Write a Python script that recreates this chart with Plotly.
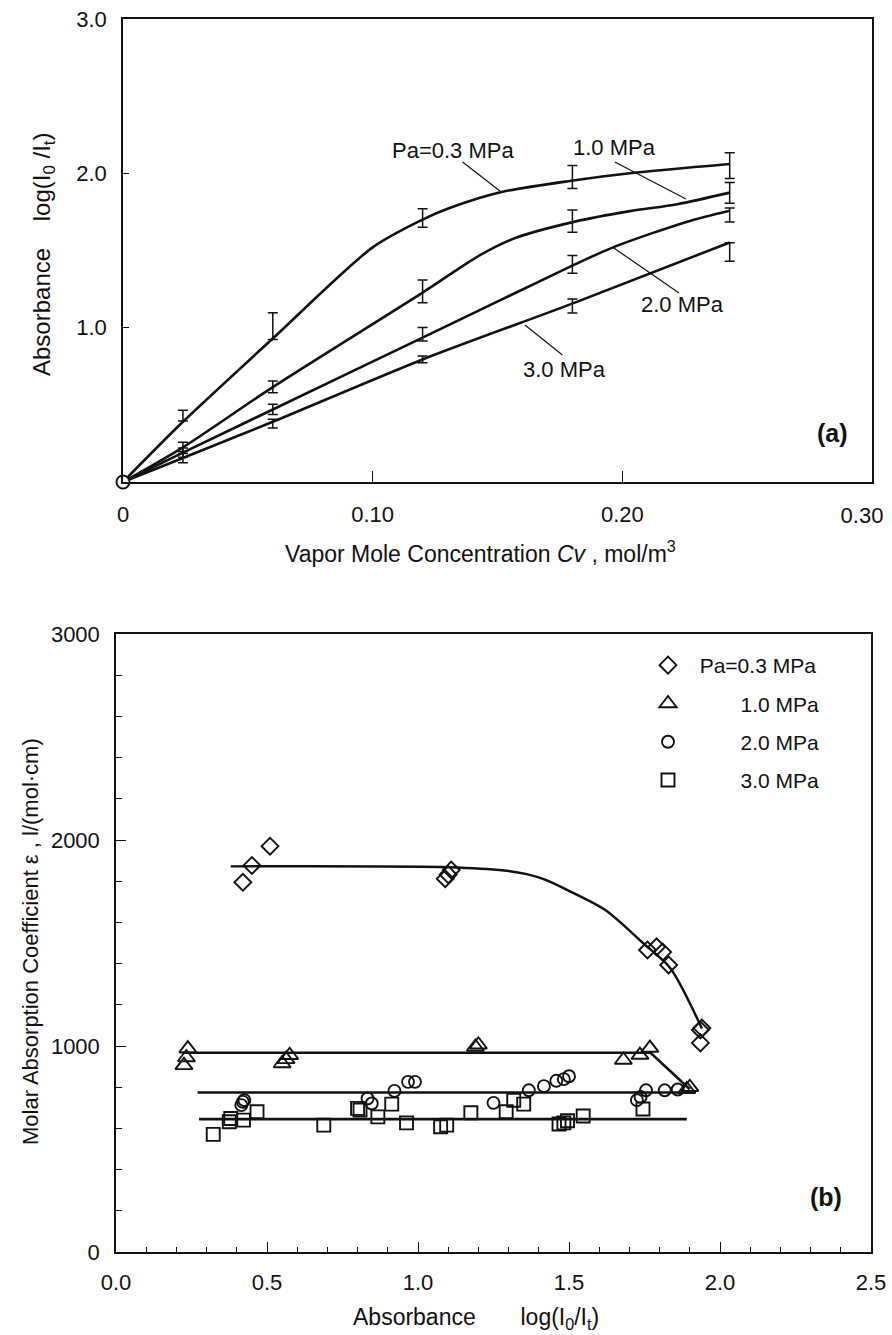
import plotly.graph_objects as go

# ---------------- Panel (a) data ----------------
cv = [0.024, 0.060, 0.120, 0.180, 0.243]
abs_03 = [0.43, 1.01, 1.71, 1.976, 2.05]
err_03 = [0.035, 0.087, 0.06, 0.074, 0.083]
abs_10 = [0.228, 0.616, 1.235, 1.69, 1.873]
err_10 = [0.03, 0.038, 0.074, 0.072, 0.067]
abs_20 = [0.19, 0.47, 0.957, 1.41, 1.73]
err_20 = [0.03, 0.033, 0.044, 0.058, 0.045]
abs_30 = [0.155, 0.378, 0.795, 1.14, 1.49]
err_30 = [0.03, 0.028, 0.022, 0.045, 0.06]
origin_cv = [0.0]
origin_abs = [0.0]

fit03_cv = [0, 0.024, 0.060, 0.100, 0.120, 0.130, 0.152, 0.181, 0.203, 0.243]
fit03 = [0, 0.39, 0.93, 1.52, 1.70, 1.77, 1.88, 1.955, 2.0, 2.06]
fit10_cv = [0, 0.024, 0.060, 0.120, 0.143, 0.157, 0.181, 0.203, 0.222, 0.243]
fit10 = [0, 0.225, 0.615, 1.227, 1.47, 1.58, 1.687, 1.755, 1.80, 1.875]
fit20_cv = [0, 0.024, 0.060, 0.120, 0.181, 0.197, 0.226, 0.243]
fit20 = [0, 0.19, 0.47, 0.935, 1.41, 1.525, 1.687, 1.758]
fit30_cv = [0, 0.024, 0.060, 0.120, 0.181, 0.243]
fit30 = [0, 0.156, 0.39, 0.794, 1.162, 1.552]

# ---------------- Panel (b) data ----------------
b03_x = [0.42, 0.45, 0.51, 1.09, 1.10, 1.11, 1.76, 1.79, 1.81, 1.83, 1.935, 1.94, 1.935]
b03_y = [1795, 1876, 1970, 1812, 1832, 1854, 1466, 1481, 1456, 1393, 1078, 1087, 1015]
b10_x = [0.225, 0.233, 0.238, 0.55, 0.563, 0.575, 1.19, 1.20, 1.68, 1.735, 1.768, 1.89, 1.90]
b10_y = [906, 944, 987, 915, 935, 955, 995, 1006, 932, 956, 990, 790, 800]
b20_x = [0.415, 0.42, 0.425, 0.833, 0.847, 0.922, 0.967, 0.99, 1.25, 1.367, 1.417,
         1.458, 1.483, 1.50, 1.725, 1.737, 1.755, 1.817, 1.86]
b20_y = [713, 729, 737, 745, 721, 782, 826, 826, 724, 785, 805, 831, 839, 853, 737,
         753, 785, 785, 789]
b30_x = [0.322, 0.375, 0.38, 0.422, 0.467, 0.688, 0.80, 0.808, 0.867, 0.913, 0.962,
         1.075, 1.095, 1.175, 1.292, 1.317, 1.35, 1.467, 1.483, 1.495, 1.547, 1.745]
b30_y = [571, 632, 648, 640, 681, 616, 697, 689, 656, 718, 627, 608, 616, 676, 681,
         737, 718, 621, 627, 637, 660, 694]

line03_x = [0.38, 1.10, 1.285, 1.36, 1.425, 1.49, 1.62, 1.745, 1.835, 1.94]
line03_y = [1872, 1868, 1852, 1834, 1805, 1760, 1660, 1500, 1379, 1085]
line10_x = [0.22, 1.77, 1.90]
line10_y = [967, 967, 790]
line20_x = [0.27, 1.89]
line20_y = [774, 774]
line30_x = [0.275, 1.89]
line30_y = [645, 645]

NB = "\u00a0"
legend_names = [NB * 2 + "Pa=0.3 MPa", NB * 9 + "1.0 MPa", NB * 9 + "2.0 MPa", NB * 9 + "3.0 MPa"]
cv_tickvals = [0, 0.10, 0.20]
cv_ticktext = ["0", "0.10", "0.20"]
cv_last_tick = [0.30]
cv_last_text = ["0.30"]

FONT = "Liberation Sans, Arial, Helvetica, sans-serif"
BLACK = "#111111"

fig = go.Figure()

# Panel (a) fitted curves
for fx, fy in [(fit03_cv, fit03), (fit10_cv, fit10), (fit20_cv, fit20), (fit30_cv, fit30)]:
    fig.add_trace(go.Scatter(x=fx, y=fy, mode="lines", xaxis="x", yaxis="y",
                             line=dict(color=BLACK, width=2.6, shape="spline", smoothing=0.8),
                             showlegend=False, hoverinfo="skip"))
# Panel (a) error bars
for yy, ee in [(abs_03, err_03), (abs_10, err_10), (abs_20, err_20), (abs_30, err_30)]:
    fig.add_trace(go.Scatter(x=cv, y=yy, mode="markers", xaxis="x", yaxis="y",
                             marker=dict(size=1, color="rgba(0,0,0,0)"),
                             error_y=dict(type="data", array=ee, visible=True,
                                          color=BLACK, thickness=1.5, width=5),
                             showlegend=False, hoverinfo="skip"))
fig.add_trace(go.Scatter(x=origin_cv, y=origin_abs, mode="markers", xaxis="x", yaxis="y",
                         marker=dict(symbol="circle", size=13, color="white",
                                     line=dict(color=BLACK, width=2)),
                         cliponaxis=False, showlegend=False, hoverinfo="skip"))

# Panel (b) lines
fig.add_trace(go.Scatter(x=line03_x, y=line03_y, mode="lines", xaxis="x2", yaxis="y2",
                         line=dict(color=BLACK, width=2.4, shape="spline", smoothing=0.8),
                         showlegend=False, hoverinfo="skip"))
for lx, ly in [(line10_x, line10_y), (line20_x, line20_y), (line30_x, line30_y)]:
    fig.add_trace(go.Scatter(x=lx, y=ly, mode="lines", xaxis="x2", yaxis="y2",
                             line=dict(color=BLACK, width=2.6),
                             showlegend=False, hoverinfo="skip"))

# Panel (b) markers
marker_specs = [
    (b03_x, b03_y, "diamond-open", 13),
    (b10_x, b10_y, "triangle-up-open", 15),
    (b20_x, b20_y, "circle-open", 12),
    (b30_x, b30_y, "square-open", 13),
]
for i, (mx, my, sym, sz) in enumerate(marker_specs):
    fig.add_trace(go.Scatter(x=mx, y=my, mode="markers", xaxis="x2", yaxis="y2",
                             name=legend_names[i], legendgroup="g%d" % i,
                             marker=dict(symbol=sym, size=sz, color=BLACK,
                                         line=dict(color=BLACK, width=1.9)),
                             hoverinfo="skip"))

W, H = 892, 1335
TICKFONT = dict(family=FONT, size=22, color=BLACK)
ax_common = dict(showline=True, linecolor=BLACK, linewidth=1.5, mirror=True,
                 showgrid=False, zeroline=False, ticks="inside", tickcolor=BLACK,
                 automargin=False, ticklabeloverflow="allow", tickfont=TICKFONT)

fig.update_layout(
    width=W, height=H, margin=dict(l=0, r=0, t=0, b=0, autoexpand=False),
    paper_bgcolor="white", plot_bgcolor="white",
    font=dict(family=FONT, size=21, color=BLACK),
    xaxis=dict(domain=[123 / W, 872 / W], anchor="y", range=[0, 0.30],
               tickvals=cv_tickvals, ticktext=cv_ticktext,
               ticklen=11, tickwidth=1.3, ticklabelstandoff=12, **ax_common),
    # helper axis carrying only the last tick label, nudged inside the page
    xaxis3=dict(domain=[123 / W, 872 / W], anchor="y", overlaying="x", range=[0, 0.30],
                tickvals=cv_last_tick, ticktext=cv_last_text, ticklabelshift=-10,
                ticks="inside", ticklen=11, tickwidth=1.3, tickcolor="rgba(0,0,0,0)",
                showline=False, showgrid=False, zeroline=False,
                automargin=False, ticklabeloverflow="allow", ticklabelstandoff=18,
                tickfont=TICKFONT),
    yaxis=dict(domain=[1 - 482 / H, 1 - 19 / H], anchor="x", range=[0, 3.0],
               tickvals=[1.0, 2.0, 3.0], ticktext=["1.0", "2.0", "3.0"],
               ticklen=6, tickwidth=1.3, ticklabelstandoff=10, **ax_common),
    xaxis2=dict(domain=[116 / W, 871 / W], anchor="y2", range=[0, 2.5],
                tickvals=[0, 0.5, 1.0, 1.5, 2.0, 2.5],
                ticktext=["0.0", "0.5", "1.0", "1.5", "2.0", "2.5"],
                ticklen=10, tickwidth=1.3, ticklabelstandoff=10,
                minor=dict(dtick=0.1, ticklen=5, tickwidth=1.2, tickcolor=BLACK, ticks="inside"),
                **ax_common),
    yaxis2=dict(domain=[1 - 1252 / H, 1 - 634 / H], anchor="x2", range=[0, 3000],
                tickvals=[0, 1000, 2000, 3000], ticktext=["0", "1000", "2000", "3000"],
                ticklen=10, tickwidth=1.3, ticklabelstandoff=10,
                minor=dict(dtick=200, ticklen=6, tickwidth=1.2, tickcolor=BLACK, ticks="inside"),
                **ax_common),
    legend=dict(x=648 / W, y=1 - 645 / H, xanchor="left", yanchor="top",
                bgcolor="rgba(0,0,0,0)", borderwidth=0, tracegroupgap=8,
                font=dict(family=FONT, size=21, color=BLACK), traceorder="grouped"),
)

# invisible anchor trace so the helper axis is drawn
fig.add_trace(go.Scatter(x=cv_last_tick, y=origin_abs, mode="markers", xaxis="x3", yaxis="y",
                         marker=dict(size=1, color="rgba(0,0,0,0)"),
                         showlegend=False, hoverinfo="skip"))

# Leader lines (panel a)
leaders = [
    (0.136, 2.074, 0.151, 1.886),
    (0.197, 2.074, 0.2255, 1.834),
    (0.2227, 1.225, 0.196, 1.523),
    (0.176, 0.823, 0.161, 1.017),
]
for x0, y0, x1, y1 in leaders:
    fig.add_shape(type="line", xref="x", yref="y", x0=x0, y0=y0, x1=x1, y1=y1,
                  line=dict(color=BLACK, width=1.2))

ann = []
def txt(x, y, t, xref, yref, size=21, bold=False, angle=0):
    ann.append(dict(x=x, y=y, xref=xref, yref=yref, text=("<b>%s</b>" % t) if bold else t,
                    showarrow=False, textangle=angle, xanchor="center", yanchor="middle",
                    font=dict(family=FONT, size=size, color=BLACK)))

txt(0.132, 2.15, "Pa=0.3 MPa", "x", "y", size=22)
txt(0.197, 2.17, "1.0 MPa", "x", "y", size=22)
txt(0.224, 1.147, "2.0 MPa", "x", "y", size=22)
txt(0.177, 0.726, "3.0 MPa", "x", "y", size=22)
txt(0.284, 0.32, "(a)", "x", "y", size=25, bold=True)
txt(2.35, 267, "(b)", "x2", "y2", size=25, bold=True)

# axis titles
txt(481 / W, 1 - 552 / H, "Vapor Mole Concentration <i>Cv</i> , mol/m<sup>3</sup>", "paper", "paper", size=23)
txt(43 / W, 1 - 255 / H, "Absorbance" + NB * 4 + "log(I<sub>0</sub>" + NB + "/I<sub>t</sub>)",
    "paper", "paper", size=24, angle=-90)
txt(30 / W, 1 - 942 / H, "Molar Absorption Coefficient \u03b5 , l/(mol\u00b7cm)", "paper", "paper",
    size=22, angle=-90)
txt(476 / W, 1 - 1318 / H, "Absorbance" + NB * 7 + "log(I<sub>0</sub>/I<sub>t</sub>)", "paper", "paper", size=23)

fig.update_layout(annotations=ann)
fig.write_html("out.html")
